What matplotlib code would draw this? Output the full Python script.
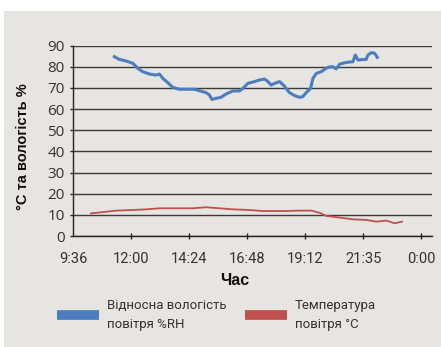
import matplotlib
matplotlib.use("Agg")
import matplotlib.pyplot as plt
from matplotlib.lines import Line2D
from matplotlib.patches import Rectangle
import matplotlib.transforms as mtransforms

# ---- data (hours of day) ----
rh_hours = [11.31, 11.52, 11.79, 12.07, 12.28, 12.48, 12.76, 13.03, 13.17, 13.31,
            13.52, 13.72, 14.00, 14.28, 14.62, 14.83, 15.10, 15.24, 15.34, 15.52,
            15.72, 15.93, 16.21, 16.48, 16.62, 16.83, 17.10, 17.31, 17.52, 17.66,
            17.79, 18.00, 18.14, 18.34, 18.55, 18.76, 18.97, 19.10, 19.24, 19.42,
            19.52, 19.66, 19.86, 20.00, 20.14, 20.34, 20.48, 20.62, 20.90, 21.17,
            21.27, 21.38, 21.59, 21.72, 21.79, 21.93, 22.07, 22.18]
rh_values = [84.8, 83.5, 82.8, 81.7, 79.3, 77.7, 76.6, 76.1, 76.6, 74.6,
             72.5, 70.3, 69.4, 69.4, 69.4, 68.7, 67.8, 66.7, 64.6, 65.1,
             65.6, 67.2, 68.6, 68.6, 69.8, 72.2, 73.0, 73.8, 74.2, 73.0,
             71.4, 72.5, 73.0, 70.9, 67.8, 66.4, 65.6, 65.9, 67.8, 69.8,
             74.6, 76.9, 77.7, 78.8, 79.8, 80.1, 79.0, 81.3, 82.1, 82.4,
             85.6, 83.2, 83.5, 83.5, 85.6, 86.7, 86.4, 84.5]

temp_hours = [10.34, 10.83, 11.38, 12.07, 12.62, 13.17, 13.86, 14.55, 15.10, 15.66,
              16.21, 16.90, 17.45, 18.28, 18.97, 19.45, 19.79, 20.07, 20.62, 21.17,
              21.72, 22.14, 22.55, 22.90, 23.20]
temp_values = [10.7, 11.3, 12.0, 12.3, 12.6, 13.1, 13.1, 13.1, 13.6, 13.1,
               12.6, 12.3, 11.8, 11.8, 12.0, 12.0, 11.0, 9.5, 8.7, 7.9,
               7.6, 6.8, 7.3, 6.0, 6.8]

x_ticks = [9.6, 12.0, 14.4, 16.8, 19.2, 21.6, 24.0]
x_tick_labels = ["9:36", "12:00", "14:24", "16:48", "19:12", "21:35", "0:00"]
y_ticks = [0, 10, 20, 30, 40, 50, 60, 70, 80, 90]

series_labels = ["Відносна вологість\nповітря %RH", "Температура\nповітря °C"]
x_label = "Час"
y_label = "°C та вологість %"

BLUE = "#4a7ebf"
RED = "#c0504d"
BG = "#e6e5e1"
TXT = "#333333"

W, H = 441, 347
fig = plt.figure(figsize=(W / 100, H / 100), dpi=100, facecolor="white")
fig.patches.append(Rectangle((4 / W, 0), 1 - 4 / W, (H - 11) / H,
                             transform=fig.transFigure, facecolor=BG,
                             edgecolor="none", zorder=-10))

left, right = 73 / W, 432 / W
bottom, top = (H - 236) / H, (H - 45.7) / H
ax = fig.add_axes([left, bottom, right - left, top - bottom])
ax.set_facecolor("none")

ax.plot(rh_hours, rh_values, color=BLUE, lw=2.2, solid_joinstyle="round", zorder=3)
ax.plot(temp_hours, temp_values, color=RED, lw=1.3, zorder=3)

ax.set_xlim(9.6, 24.44)
ax.set_ylim(0, 90)
ax.set_yticks(y_ticks)
ax.set_yticklabels([str(v) for v in y_ticks], fontfamily="Open Sans",
                   fontsize=11, color=TXT)
ax.set_xticks(x_ticks)
ax.set_xticklabels(x_tick_labels, fontfamily="Roboto",
                   fontsize=10.5, color=TXT)
offset = mtransforms.ScaledTranslation(3 / 100, 0, fig.dpi_scale_trans)
for lbl in ax.get_xticklabels():
    lbl.set_transform(lbl.get_transform() + offset)

ax.grid(axis="y", color="#3a3a3a", lw=1.0)
ax.set_axisbelow(True)
for s in ["top", "right"]:
    ax.spines[s].set_visible(False)
for s in ["left", "bottom"]:
    ax.spines[s].set_color("#222222")
    ax.spines[s].set_linewidth(1.0)

ax.tick_params(axis="y", direction="out", length=2.5, width=1, color="#222222", pad=3.5)
ax.tick_params(axis="x", direction="inout", length=4.5, width=1, color="#222222", pad=9.5)
ax.get_xticklines()[0].set_visible(False)
ax.get_xticklines()[1].set_visible(False)

ax.set_ylabel(y_label, fontfamily="Liberation Sans", fontweight="bold",
              fontsize=10.5, color="#111111")
ax.yaxis.set_label_coords(-0.139, 0.468)
ax.yaxis.label.set_va("center")
ax.set_xlabel(x_label, fontfamily="Liberation Sans", fontweight="bold",
              fontsize=11.5, color="#111111")
ax.xaxis.set_label_coords(0.451, -0.236)
ax.xaxis.label.set_va("center")

for color, label, xpos in [(BLUE, series_labels[0], 57), (RED, series_labels[1], 245)]:
    h = Line2D([], [], color=color, lw=7, solid_capstyle="butt")
    leg = fig.legend([h], [label], loc="center left",
                     bbox_to_anchor=(xpos / W, (H - 315) / H),
                     frameon=False, handlelength=3.2, handletextpad=0.6,
                     borderpad=0, borderaxespad=0,
                     prop={"family": "Roboto", "size": 9.5})
    for t in leg.get_texts():
        t.set_color(TXT)
        t.set_linespacing(1.55)

fig.savefig("out.png", dpi=100, facecolor="white")
